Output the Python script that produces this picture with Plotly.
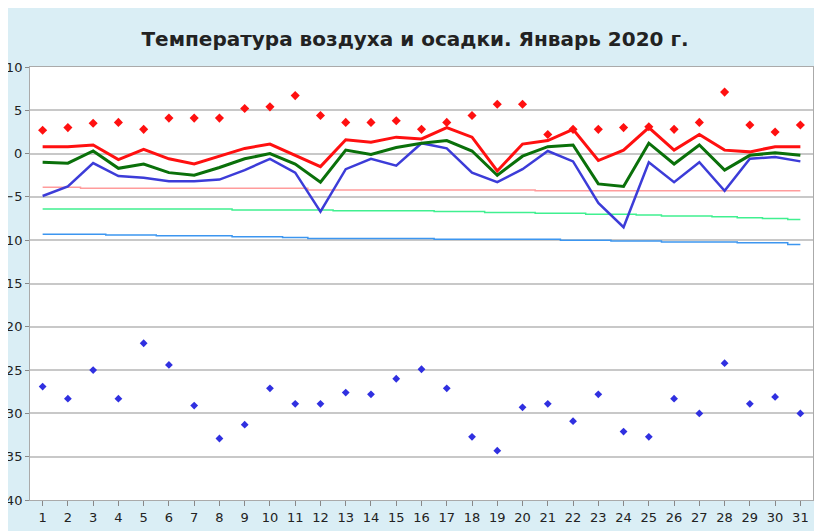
import plotly.graph_objects as go

days = list(range(1, 32))
t_max = [0.8,0.8,1.0,-0.7,0.5,-0.6,-1.2,-0.3,0.6,1.1,-0.2,-1.5,1.6,1.3,1.9,1.7,3.0,1.9,-2.0,1.1,1.5,2.8,-0.8,0.4,3.0,0.4,2.2,0.4,0.2,0.8,0.8]
t_mean = [-1.0,-1.1,0.3,-1.7,-1.2,-2.2,-2.5,-1.6,-0.6,0.0,-1.2,-3.3,0.4,-0.1,0.7,1.2,1.5,0.3,-2.5,-0.3,0.8,1.0,-3.5,-3.8,1.2,-1.2,1.0,-1.9,-0.2,0.1,-0.2]
t_min = [-4.9,-3.8,-1.1,-2.6,-2.8,-3.2,-3.2,-3.0,-1.9,-0.6,-2.2,-6.7,-1.8,-0.6,-1.4,1.2,0.6,-2.2,-3.3,-1.8,0.3,-0.9,-5.7,-8.5,-1.0,-3.3,-1.0,-4.3,-0.6,-0.4,-0.9]
abs_max = [2.7,3.0,3.5,3.6,2.8,4.1,4.1,4.1,5.2,5.4,6.7,4.4,3.6,3.6,3.8,2.8,3.6,4.4,5.7,5.7,2.2,2.8,2.8,3.0,3.1,2.8,3.6,7.1,3.3,2.5,3.3]
abs_min = [-26.9,-28.3,-25.0,-28.3,-21.9,-24.4,-29.1,-32.9,-31.3,-27.1,-28.9,-28.9,-27.6,-27.8,-26.0,-24.9,-27.1,-32.7,-34.3,-29.3,-28.9,-30.9,-27.8,-32.1,-32.7,-28.3,-30.0,-24.2,-28.9,-28.1,-30.0]
norm_max = [-3.9,-3.9,-4.0,-4.0,-4.0,-4.0,-4.0,-4.0,-4.0,-4.0,-4.0,-4.2,-4.2,-4.2,-4.2,-4.2,-4.2,-4.2,-4.2,-4.2,-4.3,-4.3,-4.3,-4.3,-4.3,-4.3,-4.3,-4.3,-4.3,-4.3,-4.3]
norm_mean = [-6.4,-6.4,-6.4,-6.4,-6.4,-6.4,-6.4,-6.4,-6.5,-6.5,-6.5,-6.5,-6.6,-6.6,-6.6,-6.6,-6.7,-6.7,-6.8,-6.8,-6.9,-6.9,-7.0,-7.0,-7.1,-7.2,-7.2,-7.3,-7.4,-7.5,-7.6]
norm_min = [-9.3,-9.3,-9.3,-9.4,-9.4,-9.5,-9.5,-9.5,-9.6,-9.6,-9.7,-9.8,-9.8,-9.8,-9.8,-9.8,-9.9,-9.9,-9.9,-9.9,-9.9,-10.0,-10.0,-10.1,-10.1,-10.2,-10.2,-10.2,-10.3,-10.3,-10.5]

fig = go.Figure()
fig.add_trace(go.Scatter(x=days, y=norm_max, mode="lines", line=dict(color="#ff9c9c", width=1.5, shape="hvh")))
fig.add_trace(go.Scatter(x=days, y=norm_mean, mode="lines", line=dict(color="#40f090", width=1.5, shape="hvh")))
fig.add_trace(go.Scatter(x=days, y=norm_min, mode="lines", line=dict(color="#3c96f0", width=1.5, shape="hvh")))
fig.add_trace(go.Scatter(x=days, y=t_min, mode="lines", line=dict(color="#3c3cd8", width=2.5)))
fig.add_trace(go.Scatter(x=days, y=t_mean, mode="lines", line=dict(color="#0a700a", width=3)))
fig.add_trace(go.Scatter(x=days, y=t_max, mode="lines", line=dict(color="#ff1010", width=3)))
fig.add_trace(go.Scatter(x=days, y=abs_max, mode="markers", marker=dict(symbol="diamond", color="#ff1010", size=7)))
fig.add_trace(go.Scatter(x=days, y=abs_min, mode="markers", marker=dict(symbol="diamond", color="#3030e0", size=6)))

fig.update_layout(
    width=814, height=523, showlegend=False,
    paper_bgcolor="#daeef5", plot_bgcolor="white",
    margin=dict(l=22, r=9, t=59, b=31, autoexpand=False),
    title=dict(text="<b>Температура воздуха и осадки. Январь 2020 г.</b>", x=0.5, y=0.955, xanchor="center",
               font=dict(family="DejaVu Sans", size=20, color="#222")),
    font=dict(family="DejaVu Sans", size=13, color="#222"),
)
fig.update_xaxes(range=[0.5, 31.5], tickmode="array", tickvals=days, showgrid=False, zeroline=False, automargin=False,
                 ticks="outside", ticklen=5, tickcolor="#888", showline=True, linecolor="#aaa", mirror=True)
fig.update_yaxes(range=[-40, 10], dtick=5, showgrid=True, gridcolor="#c8c8c8", gridwidth=1.5, zeroline=False, automargin=False,
                 ticks="outside", ticklen=4, tickcolor="#888", showline=True, linecolor="#aaa", mirror=True)
fig.write_html("out.html")
